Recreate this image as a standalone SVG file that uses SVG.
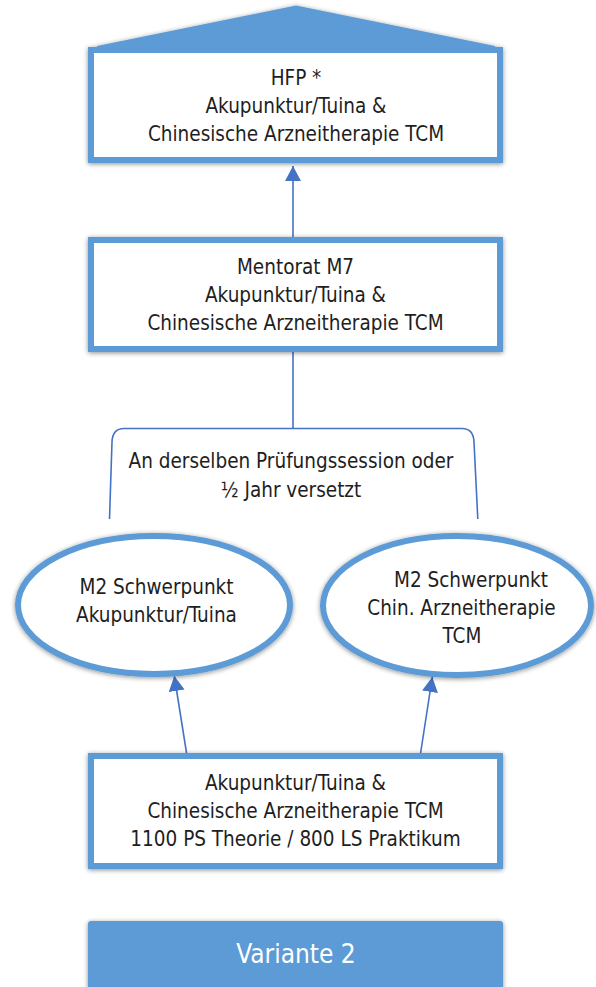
<svg xmlns="http://www.w3.org/2000/svg" width="596" height="987" viewBox="0 0 596 987">
<defs>
<filter id="sh" x="-10%" y="-10%" width="120%" height="125%">
<feGaussianBlur in="SourceAlpha" stdDeviation="2.5"/>
<feOffset dx="0" dy="1" result="b"/>
<feComponentTransfer><feFuncA type="linear" slope="0.45"/></feComponentTransfer>
<feMerge><feMergeNode/><feMergeNode in="SourceGraphic"/></feMerge>
</filter>
<marker id="ah" markerUnits="userSpaceOnUse" markerWidth="16" markerHeight="16" viewBox="0 0 16 16" refX="15" refY="8" orient="auto">
<path d="M0,0 L15,8 L0,16 Z" fill="#4472C4"/>
</marker>
</defs>
<style>
.box{fill:#fff;stroke:#5B9BD5;stroke-width:6;}
.ell{fill:#fff;stroke:#5B9BD5;stroke-width:6;}
.t{font-family:'DejaVu Sans Condensed','DejaVu Sans',sans-serif;font-stretch:condensed;font-size:20.5px;fill:#1e1e1e;text-anchor:middle;}
.c{fill:none;stroke:#4472C4;stroke-width:1.6;}
</style>
<g id="connectors">
<line class="c" x1="293" y1="237" x2="293" y2="166" marker-end="url(#ah)"/>
<line class="c" x1="293" y1="352" x2="293" y2="428.5"/>
<path class="c" d="M109.5,519 L112,442 Q112.5,428.5 124,428.5 L462,428.5 Q473.5,428.5 474,442 L477.8,519"/>
<line class="c" x1="186.7" y1="754" x2="174.3" y2="676" marker-end="url(#ah)"/>
<line class="c" x1="420" y1="757" x2="432.3" y2="677" marker-end="url(#ah)"/>
</g>
<g id="hfp">
<g filter="url(#sh)">
<rect class="box" x="91" y="50" width="409" height="110"/>
<polygon points="97,46 296,5.5 495,46 495,52 97,52" fill="#5B9BD5"/>
</g>
<text class="t" x="296" y="85">HFP *</text>
<text class="t" x="296" y="113">Akupunktur/Tuina &amp;</text>
<text class="t" x="296" y="141">Chinesische Arzneitherapie TCM</text>
</g>
<g id="mentorat">
<rect class="box" x="91" y="240" width="409" height="109" filter="url(#sh)"/>
<text class="t" x="295.5" y="274">Mentorat M7</text>
<text class="t" x="295.5" y="302">Akupunktur/Tuina &amp;</text>
<text class="t" x="295.5" y="330">Chinesische Arzneitherapie TCM</text>
</g>
<g id="bracket-label">
<text class="t" x="291" y="468">An derselben Prüfungssession oder</text>
<text class="t" x="291" y="496.5">½ Jahr versetzt</text>
</g>
<g id="m2-akupunktur">
<ellipse class="ell" cx="154" cy="605" rx="136" ry="69" filter="url(#sh)"/>
<text class="t" x="156.5" y="594">M2 Schwerpunkt</text>
<text class="t" x="156.5" y="621.5">Akupunktur/Tuina</text>
</g>
<g id="m2-arznei">
<ellipse class="ell" cx="457" cy="605.5" rx="134" ry="69.5" filter="url(#sh)"/>
<text class="t" x="471" y="587">M2 Schwerpunkt</text>
<text class="t" x="461.5" y="615">Chin. Arzneitherapie</text>
<text class="t" x="462" y="643">TCM</text>
</g>
<g id="grundausbildung">
<rect class="box" x="91" y="756" width="409" height="110" filter="url(#sh)"/>
<text class="t" x="295.5" y="790">Akupunktur/Tuina &amp;</text>
<text class="t" x="295.5" y="817.5">Chinesische Arzneitherapie TCM</text>
<text class="t" x="295.5" y="845.5">1100 PS Theorie / 800 LS Praktikum</text>
</g>
<g id="variante">
<rect x="88" y="921" width="415" height="70" rx="3" fill="#5B9BD5" filter="url(#sh)"/>
<text class="t" x="296" y="963" style="font-size:26px;fill:#fff">Variante 2</text>
</g>
</svg>
